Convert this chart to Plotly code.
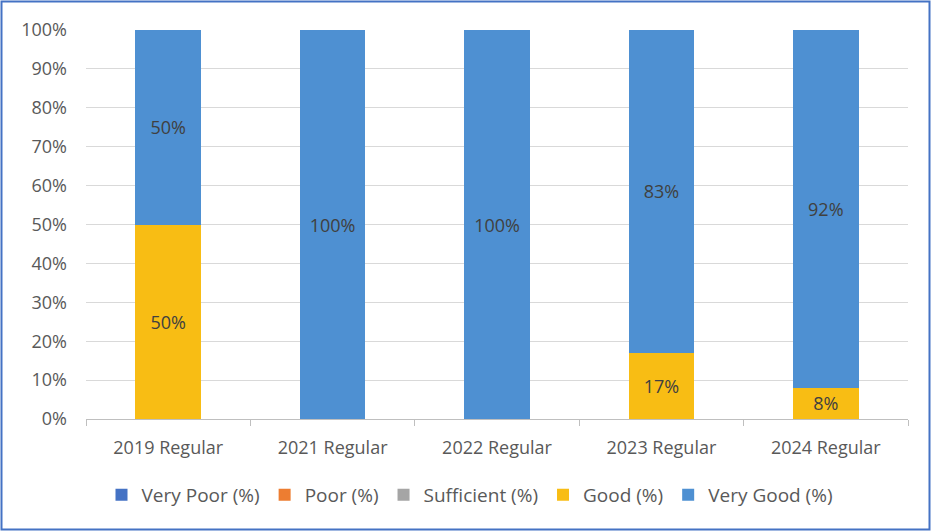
import plotly.graph_objects as go

categories = ["2019 Regular", "2021 Regular", "2022 Regular", "2023 Regular", "2024 Regular"]
very_poor = [0, 0, 0, 0, 0]
poor = [0, 0, 0, 0, 0]
sufficient = [0, 0, 0, 0, 0]
good = [50, 0, 0, 17, 8]
very_good = [50, 100, 100, 83, 92]

series = [
    ("Very Poor (%)", very_poor, "#4472c4"),
    ("Poor (%)", poor, "#ed7d31"),
    ("Sufficient (%)", sufficient, "#a5a5a5"),
    ("Good (%)", good, "#f8bd14"),
    ("Very Good (%)", very_good, "#4e90d2"),
]

FONT = "Open Sans"
fig = go.Figure()
for name, vals, col in series:
    fig.add_trace(go.Bar(
        x=categories, y=vals, name=name,
        marker=dict(color=col, line=dict(width=0)),
        text=[f"{v}%" if v > 0 else "" for v in vals],
        textposition="inside", insidetextanchor="middle",
        textfont=dict(family=FONT, size=18, color="#404040"),
        hoverinfo="skip",
    ))

W, H = 932, 531
L, R, T, B = 86, 24, 30, 112
pw, ph = W - L - R, H - T - B

def px(x):
    return (x - L) / pw

def py(y):
    return (H - B - y) / ph

fig.add_shape(type="rect", xref="paper", yref="paper",
              x0=px(1.5), x1=px(929.5), y0=py(1.5), y1=py(529.5),
              line=dict(color="#4472c4", width=2), fillcolor="rgba(0,0,0,0)", layer="below")

fig.update_layout(
    width=W, height=H,
    margin=dict(l=L, r=R, t=T, b=B, pad=0),
    barmode="stack", bargap=0.6,
    plot_bgcolor="white", paper_bgcolor="white",
    font=dict(family=FONT, size=18, color="#595959"),
    showlegend=True,
    legend=dict(orientation="h", x=px(470), xanchor="center", y=py(495), yanchor="middle",
                font=dict(family=FONT, size=19, color="#595959"),
                itemwidth=30, traceorder="normal"),
    xaxis=dict(showline=True, linecolor="#bfbfbf", linewidth=1,
               ticks="outside", tickson="boundaries", ticklen=6, tickcolor="#bfbfbf",
               ticklabelstandoff=12,
               tickfont=dict(family=FONT, size=18, color="#595959"), showgrid=False),
    yaxis=dict(range=[0, 100], dtick=10, ticksuffix="%", showgrid=True,
               gridcolor="#d9d9d9", gridwidth=1, zeroline=False, showline=False,
               ticks="", ticklabelstandoff=18,
               tickfont=dict(family=FONT, size=18, color="#595959")),
)

fig.write_html("out.html", config={"displayModeBar": False},
               post_script="document.body.style.margin='0';")
